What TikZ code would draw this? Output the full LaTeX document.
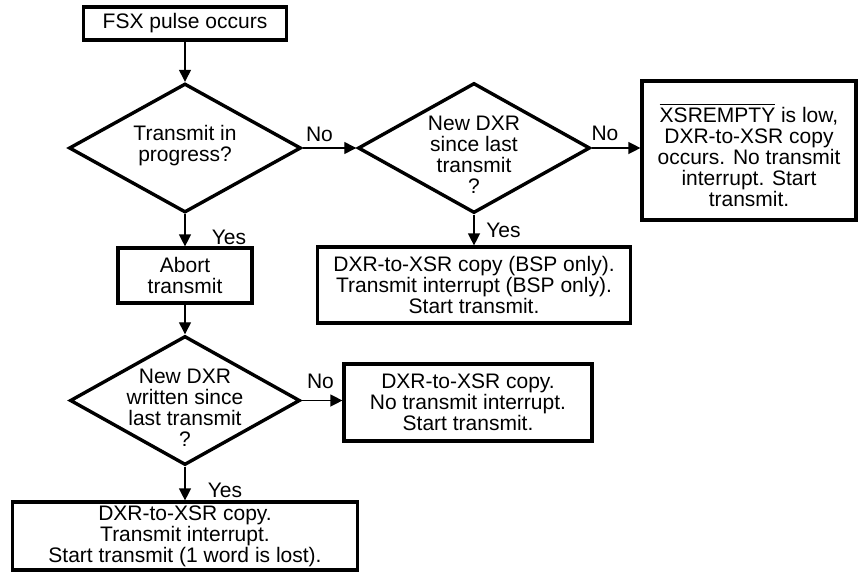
\documentclass[tikz,border=0pt]{standalone}
\usepackage{fontspec}
\setmainfont{Liberation Sans}
\usetikzlibrary{shapes.geometric,arrows.meta}
\newcommand\ovline[1]{\leavevmode\vbox{\hrule height 1.5pt\kern 2.5pt\hbox{#1}}}
\begin{document}
\begin{tikzpicture}[x=1pt,y=-1pt,
  every node/.style={font=\fontsize{21}{21}\selectfont, inner sep=0pt, align=center},
  box/.style={draw, line width=3.2pt},
  dia/.style={draw, diamond, line width=3.4pt},
  arr/.style={-{Triangle[length=12pt,width=12pt]}, line width=1.3pt},
  lbl/.style={}]
\useasboundingbox (0,0) rectangle (859,576);
% nodes
\node[box, minimum width=203pt, minimum height=33pt] (fsx) at (185,23.5) {FSX pulse occurs};
\node[dia, minimum width=232pt, minimum height=129pt] (d1) at (185,148) {};
\node (d1t) at (185,146) {Transmit in\\progress?};
\node[dia, minimum width=232pt, minimum height=130pt] (d2) at (474,148) {};
\node (d2t) at (474,155) {New DXR\\since last\\transmit\\?};
\node[box, minimum width=214pt, minimum height=139pt] (xsr) at (749,150.5) {};
\node (xsrt) at (749,155) {\ovline{XSREMPTY} is low,\\DXR-to-XSR copy\\occurs. No transmit\\interrupt. Start\\transmit.};
\node[box, minimum width=134pt, minimum height=55pt] (abort) at (185,275.5) {Abort\\transmit};
\node[box, minimum width=313pt, minimum height=76pt] (bsp) at (474,285) {DXR-to-XSR copy (BSP only).\\Transmit interrupt (BSP only).\\Start transmit.};
\node[dia, minimum width=230pt, minimum height=129pt] (d3) at (185,400.5) {};
\node (d3t) at (185,408) {New DXR\\written since\\last transmit\\?};
\node[box, minimum width=248pt, minimum height=77pt] (nc) at (468,402.5) {DXR-to-XSR copy.\\No transmit interrupt.\\Start transmit.};
\node[box, minimum width=345pt, minimum height=68pt] (lost) at (185,536) {DXR-to-XSR copy.\\Transmit interrupt.\\Start transmit (1 word is lost).};
% connectors
\draw[arr] (fsx.south) -- (d1.north);
\draw[arr] (d1.east) -- (d2.west);
\draw[arr] (d2.east) -- (d2.east -| xsr.west);
\draw[arr] (d2.south) -- (bsp.north);
\draw[arr] (d1.south) -- (abort.north);
\draw[arr] (abort.south) -- (d3.north);
\draw[arr] (d3.east) -- (d3.east -| nc.west);
\draw[arr] (d3.south) -- (lost.north);
% labels
\node[lbl] (no1) at (319.5,134) {No};
\node[lbl] (no2) at (605,133) {No};
\node[lbl] (no3) at (320.5,381) {No};
\node[lbl] (yes1) at (229,237) {Yes};
\node[lbl] (yes2) at (503.5,230) {Yes};
\node[lbl] (yes3) at (225,490) {Yes};
\end{tikzpicture}
\end{document}
